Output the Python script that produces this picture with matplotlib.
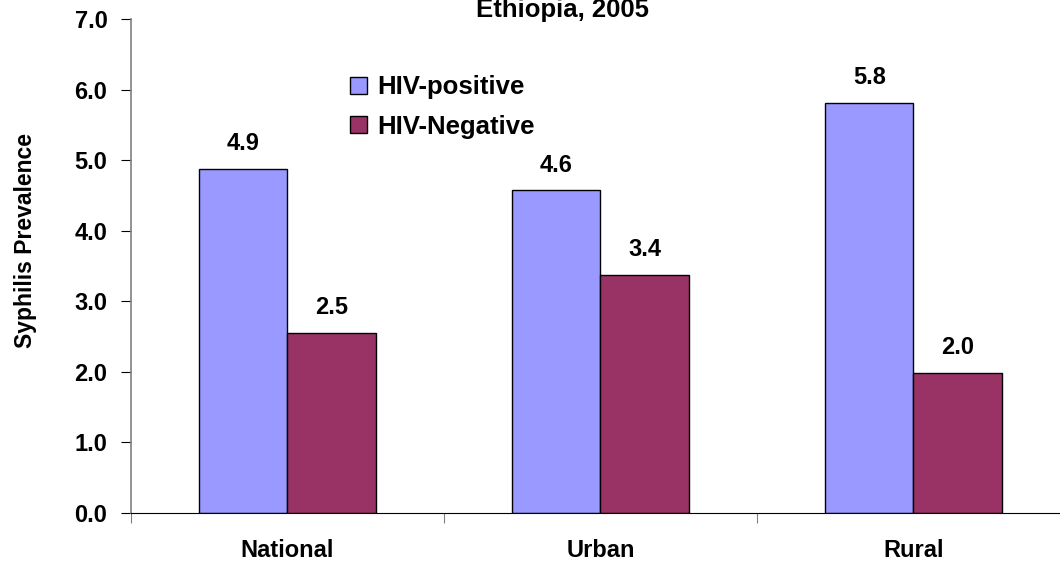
import numpy as np
import matplotlib
matplotlib.use('Agg')
import matplotlib.pyplot as plt

plt.rcParams['font.family'] = ['Liberation Sans', 'DejaVu Sans']
plt.rcParams['font.weight'] = 'bold'

kategori = ['National', 'Urban', 'Rural']
hiv_pos = [4.88, 4.57, 5.81]
hiv_neg = [2.55, 3.37, 1.98]
label_pos = ['4.9', '4.6', '5.8']
label_neg = ['2.5', '3.4', '2.0']
warna_pos = '#9999FF'
warna_neg = '#993366'

fig = plt.figure(figsize=(10.6, 5.61), dpi=100)
ax = fig.add_axes([131/1060, 48/561, 939/1060, 494/561])

x = np.arange(len(kategori))
w = 0.283
b1 = ax.bar(x - w/2, hiv_pos, w, color=warna_pos, edgecolor='black', linewidth=1, label='HIV-positive')
b2 = ax.bar(x + w/2, hiv_neg, w, color=warna_neg, edgecolor='black', linewidth=1, label='HIV-Negative')

for bars, labs in [(b1, label_pos), (b2, label_neg)]:
    for b, t in zip(bars, labs):
        ax.annotate(t, (b.get_x() + b.get_width()/2, b.get_height()),
                    xytext=(0, 10), textcoords='offset points',
                    ha='center', va='bottom', fontsize=17, fontweight='bold')

ax.set_xlim(-0.5, 2.5)
ax.set_ylim(0, 7)
ax.set_yticks(np.arange(0, 7.01, 1.0))
ax.set_yticklabels(['%.1f' % v for v in np.arange(0, 7.01, 1.0)], fontsize=17, fontweight='bold')
ax.set_xticks([-0.5, 0.5, 1.5, 2.5])
ax.set_xticklabels([])
ax.set_xticks(x, minor=True)
ax.set_xticklabels(kategori, minor=True, fontsize=17, fontweight='bold')
ax.tick_params(axis='x', which='minor', length=0, pad=19)
ax.tick_params(axis='x', which='major', length=7, color='#808080')
ax.tick_params(axis='y', length=7, pad=10)

ax.spines['top'].set_visible(False)
ax.spines['right'].set_visible(False)
ax.spines['left'].set_color('#808080')
ax.spines['left'].set_linewidth(1.2)

ax.set_ylabel('Syphilis Prevalence', fontsize=16.5, fontweight='bold', va='center')
ax.yaxis.set_label_coords((25 - 131)/939, (513 - 241)/494)

fig.text(563/1060, 1 - 17/561, 'Ethiopia, 2005', ha='center', va='baseline', fontsize=18.5, fontweight='bold')

ax.legend(loc='upper left', bbox_to_anchor=(340/1060, 1 - 65/561), bbox_transform=fig.transFigure,
          frameon=False, fontsize=18.5, handlelength=0.65, handleheight=0.65, handletextpad=0.4,
          labelspacing=0.6, borderaxespad=0)

plt.savefig('out.png')
